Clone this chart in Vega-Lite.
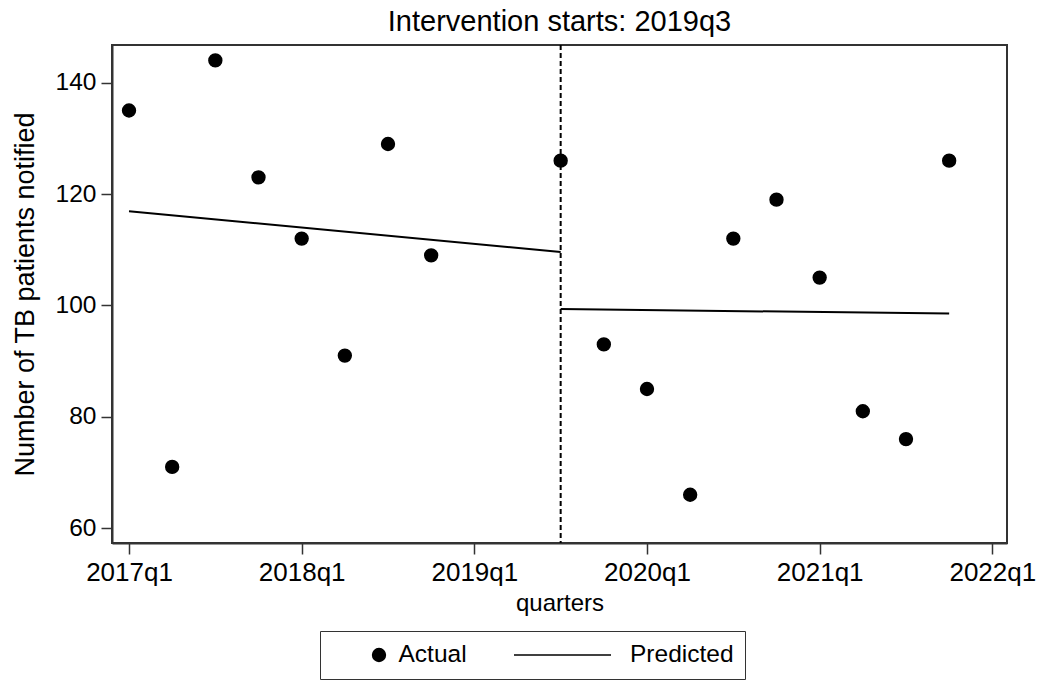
{
  "$schema": "https://vega.github.io/schema/vega-lite/v6.json",
  "autosize": "none",
  "width": 895,
  "height": 498,
  "padding": {"left": 112, "top": 45, "right": 33, "bottom": 138},
  "background": "white",
  "config": {
    "font": "Liberation Sans",
    "view": {"stroke": "#333333", "strokeWidth": 2},
    "axis": {
      "labelFont": "Liberation Sans",
      "labelColor": "black",
      "titleFont": "Liberation Sans",
      "titleFontWeight": "normal",
      "titleColor": "black",
      "tickColor": "#333333",
      "tickSize": 11,
      "tickWidth": 1.5,
      "domainColor": "#333333",
      "domainWidth": 2,
      "grid": false
    },
    "title": {"font": "Liberation Sans", "fontSize": 29, "fontWeight": "normal", "color": "black"}
  },
  "title": {"text": "Intervention starts: 2019q3", "anchor": "middle", "offset": 7},
  "datasets": {
    "actual": [
      {"t": 0, "value": 135, "series": "Actual"},
      {"t": 1, "value": 71, "series": "Actual"},
      {"t": 2, "value": 144, "series": "Actual"},
      {"t": 3, "value": 123, "series": "Actual"},
      {"t": 4, "value": 112, "series": "Actual"},
      {"t": 5, "value": 91, "series": "Actual"},
      {"t": 6, "value": 129, "series": "Actual"},
      {"t": 7, "value": 109, "series": "Actual"},
      {"t": 10, "value": 126, "series": "Actual"},
      {"t": 11, "value": 93, "series": "Actual"},
      {"t": 12, "value": 85, "series": "Actual"},
      {"t": 13, "value": 66, "series": "Actual"},
      {"t": 14, "value": 112, "series": "Actual"},
      {"t": 15, "value": 119, "series": "Actual"},
      {"t": 16, "value": 105, "series": "Actual"},
      {"t": 17, "value": 81, "series": "Actual"},
      {"t": 18, "value": 76, "series": "Actual"},
      {"t": 19, "value": 126, "series": "Actual"}
    ],
    "predicted": [
      {"t": 0, "value": 116.9, "seg": "pre"},
      {"t": 10, "value": 109.6, "seg": "pre"},
      {"t": 10, "value": 99.35, "seg": "post"},
      {"t": 19, "value": 98.55, "seg": "post"}
    ],
    "intervention": [{"t": 10}]
  },
  "layer": [
    {
      "data": {"name": "intervention"},
      "mark": {"type": "rule", "color": "black", "strokeWidth": 2, "strokeDash": [5, 3]},
      "encoding": {
        "x": {"field": "t", "type": "quantitative", "scale": {"domain": [-0.394, 20.34], "nice": false, "zero": false}}
      }
    },
    {
      "data": {"name": "predicted"},
      "mark": {"type": "line", "color": "black", "strokeWidth": 2},
      "encoding": {
        "x": {"field": "t", "type": "quantitative"},
        "y": {"field": "value", "type": "quantitative"},
        "detail": {"field": "seg", "type": "nominal"}
      }
    },
    {
      "data": {"name": "actual"},
      "mark": {"type": "point", "filled": true, "fill": "black", "stroke": "black", "strokeWidth": 1.5, "opacity": 1},
      "encoding": {
        "x": {
          "field": "t", "type": "quantitative",
          "scale": {"domain": [-0.394, 20.34], "nice": false, "zero": false},
          "axis": {"title": "quarters", "values": [0, 4, 8, 12, 16, 20], "labelExpr": "(2017 + floor(datum.value / 4)) + 'q1'", "labelFontSize": 26, "titleFontSize": 24, "labelPadding": 5, "titlePadding": 6, "labelFlush": false}
        },
        "y": {
          "field": "value", "type": "quantitative",
          "scale": {"domain": [57.34, 146.77], "nice": false, "zero": false},
          "axis": {"title": "Number of TB patients notified", "values": [60, 80, 100, 120, 140], "labelFontSize": 24.5, "titleFontSize": 27, "labelPadding": 5, "titlePadding": 16}
        },
        "shape": {
          "field": "series", "type": "nominal",
          "scale": {"domain": ["Actual", "Predicted"], "range": ["circle", "stroke"]},
          "legend": {
            "title": null,
            "orient": "none",
            "legendX": 208,
            "legendY": 586,
            "direction": "horizontal",
            "columns": 2,
            "columnPadding": 46,
            "padding": 11,
            "clipHeight": 26,
            "strokeColor": "#333333",
            "labelFont": "Liberation Sans",
            "labelFontSize": 24.5,
            "labelColor": "black",
            "symbolOffset": {"expr": "datum.value === 'Actual' ? -1.5 : 0"},
            "labelOffset": {"expr": "datum.value === 'Actual' ? -30 : 18"}
          }
        },
        "size": {
          "field": "series", "type": "nominal",
          "scale": {"type": "ordinal", "domain": ["Actual", "Predicted"], "range": [165, 9409]}
        }
      }
    }
  ]
}
